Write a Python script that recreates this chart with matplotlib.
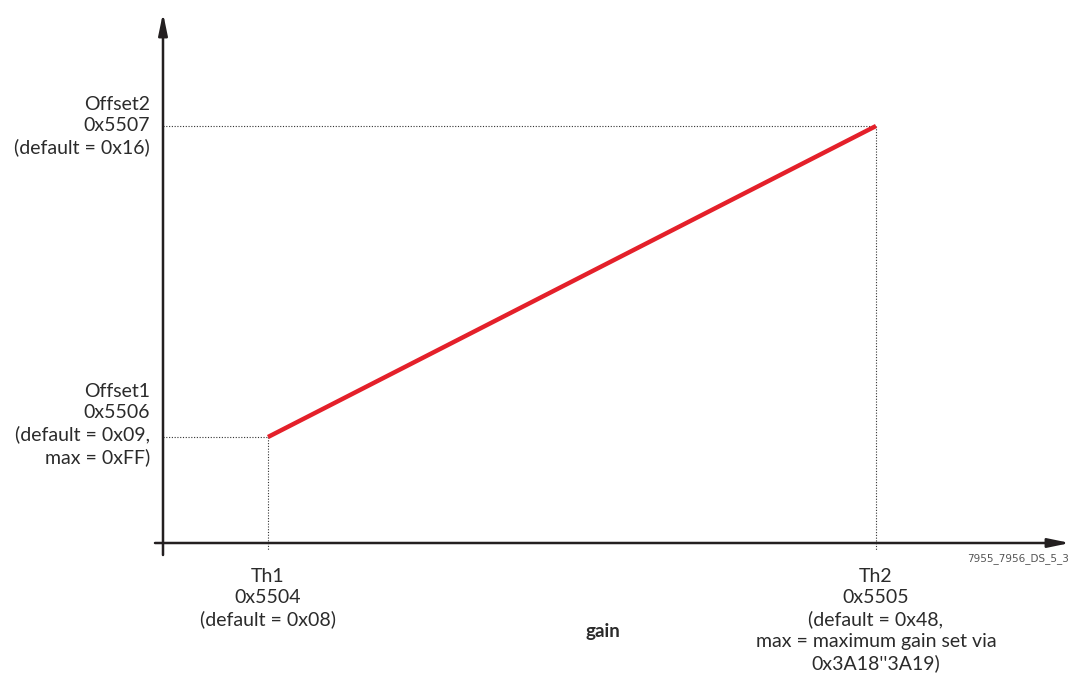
import matplotlib.pyplot as plt

# schematic positions (axis units, origin at the axis crossing)
gain_th = [105, 713]          # Th1, Th2
offset_val = [106, 417]       # Offset1, Offset2

th_labels = ["Th1\n0x5504\n(default = 0x08)",
             "Th2\n0x5505\n(default = 0x48,\nmax = maximum gain set via\n0x3A18''3A19)"]
offset_labels = ["Offset1\n0x5506\n(default = 0x09,\nmax = 0xFF)",
                 "Offset2\n0x5507\n(default = 0x16)"]

plt.rcParams['font.family'] = ['Lato', 'DejaVu Sans']
txt_color = '#2b2b2b'
axis_color = '#231f20'
red = '#e4202a'
fs = 14
ls = 1.3
line_px = fs * ls * 100 / 72

fig = plt.figure(figsize=(10.72, 6.78), dpi=100)
ax = fig.add_axes([0, 0, 1, 1])
ax.set_xlim(-163, 909)
ax.set_ylim(-135, 543)
ax.axis('off')

arrow = dict(arrowstyle='-|>,head_length=1.3,head_width=0.27', lw=1.8,
             color=axis_color, shrinkA=0, shrinkB=0, mutation_scale=10)
ax.annotate('', xy=(907, 0), xytext=(-8, 0), arrowprops=arrow)
ax.annotate('', xy=(0, 530), xytext=(0, -12), arrowprops=arrow)

# dotted guides
for g, o in zip(gain_th, offset_val):
    ax.plot([0, g], [o, o], ls=(0, (1, 1.5)), color='#333333', lw=0.8)
    ax.plot([g, g], [o, -7], ls=(0, (1, 1.5)), color='#333333', lw=0.8)

ax.plot(gain_th, offset_val, color=red, lw=3.2, solid_capstyle='butt', zorder=5)

# y labels: Offset1 has 4 lines (3rd line at the guide), Offset2 has 3 (middle)
ax.text(-13, offset_val[0] + line_px / 2, offset_labels[0], ha='right', va='center',
        fontsize=fs, linespacing=ls, color=txt_color, multialignment='right')
ax.text(-13, offset_val[1], offset_labels[1], ha='right', va='center',
        fontsize=fs, linespacing=ls, color=txt_color, multialignment='right')

for g, lab in zip(gain_th, th_labels):
    ax.text(g, -25, lab, ha='center', va='top', fontsize=fs, linespacing=ls,
            color=txt_color, multialignment='center')

ax.text(440, -89, 'gain', ha='center', va='center', fontsize=13.5,
        fontweight='bold', color=txt_color)
ax.text(906, -16, '7955_7956_DS_5_3', ha='right', va='center', fontsize=7.5,
        family='DejaVu Sans', color='#555555')

fig.savefig('out.png', dpi=100)
